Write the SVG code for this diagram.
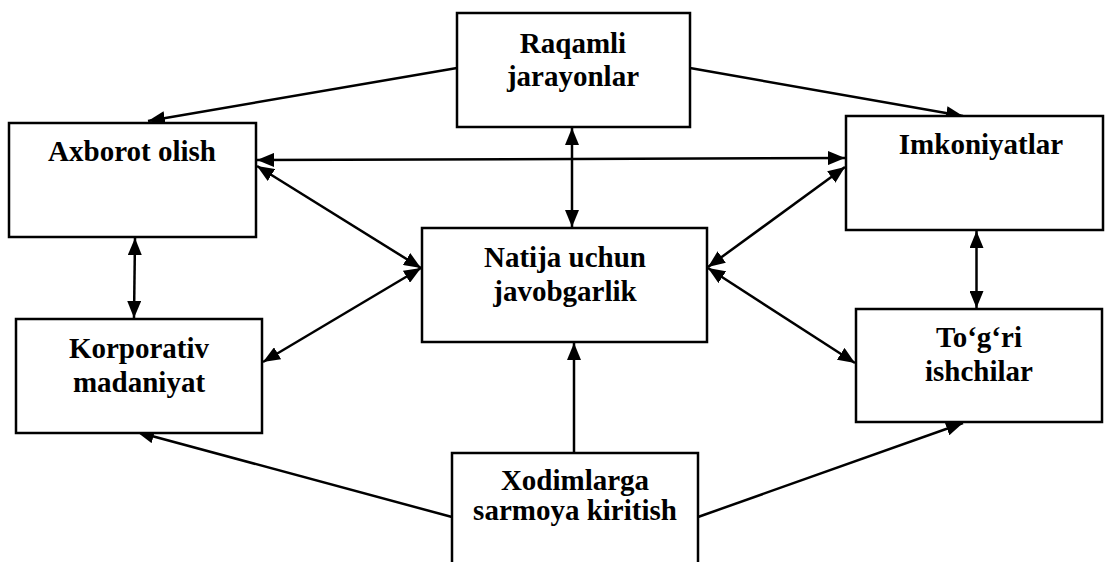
<svg xmlns="http://www.w3.org/2000/svg" width="1105" height="562" viewBox="0 0 1105 562">
  <style>
    .box { fill: #ffffff; stroke: #000000; stroke-width: 2.5; }
    .lbl { font-family: "Liberation Serif", "DejaVu Serif", serif; font-weight: bold; font-size: 29px; fill: #000000; text-anchor: middle; }
    .edge { stroke: #000000; stroke-width: 2.5; fill: none; }
    .one { marker-end: url(#head); }
    .two { marker-start: url(#head); marker-end: url(#head); }
  </style>
  <defs>
    <marker id="head" markerUnits="userSpaceOnUse" markerWidth="18" markerHeight="14" refX="17" refY="7" orient="auto-start-reverse">
      <path d="M0,0 L17,7 L0,14 Z" fill="#000000"/>
    </marker>
  </defs>
  <rect width="1105" height="562" fill="#ffffff"/>

  <g id="connectors">
    <line class="edge one" x1="457" y1="68" x2="148" y2="121"/>
    <line class="edge one" x1="690" y1="68" x2="963" y2="116"/>
    <line class="edge two" x1="572" y1="128" x2="572" y2="227"/>
    <line class="edge two" x1="257" y1="160" x2="845" y2="158"/>
    <line class="edge two" x1="257" y1="166" x2="421" y2="268"/>
    <line class="edge two" x1="845" y1="167" x2="708" y2="267"/>
    <line class="edge two" x1="135" y1="238" x2="134" y2="318"/>
    <line class="edge two" x1="976.5" y1="231" x2="976.5" y2="308"/>
    <line class="edge two" x1="421" y1="268" x2="263" y2="362"/>
    <line class="edge two" x1="708" y1="268" x2="855" y2="363"/>
    <line class="edge one" x1="574" y1="453" x2="574" y2="343"/>
    <line class="edge one" x1="452" y1="517" x2="137" y2="432"/>
    <line class="edge one" x1="698" y1="517" x2="963" y2="423"/>
  </g>

  <g id="raqamli">
    <rect class="box" x="457" y="13" width="233" height="114"/>
    <text class="lbl" x="573" y="53">Raqamli</text>
    <text class="lbl" x="573" y="86">jarayonlar</text>
  </g>
  <g id="axborot">
    <rect class="box" x="9" y="123" width="247" height="114"/>
    <text class="lbl" x="132" y="161">Axborot olish</text>
  </g>
  <g id="imkoniyatlar">
    <rect class="box" x="846" y="116" width="257" height="114"/>
    <text class="lbl" x="981" y="154">Imkoniyatlar</text>
  </g>
  <g id="natija">
    <rect class="box" x="422" y="228" width="285" height="114"/>
    <text class="lbl" x="565" y="267">Natija uchun</text>
    <text class="lbl" x="565" y="301">javobgarlik</text>
  </g>
  <g id="korporativ">
    <rect class="box" x="16" y="319" width="246" height="114"/>
    <text class="lbl" x="139" y="358">Korporativ</text>
    <text class="lbl" x="139" y="392">madaniyat</text>
  </g>
  <g id="togri">
    <rect class="box" x="856" y="309" width="246" height="113"/>
    <text class="lbl" x="979" y="347">To‘g‘ri</text>
    <text class="lbl" x="979" y="381">ishchilar</text>
  </g>
  <g id="xodimlarga">
    <rect class="box" x="452" y="453" width="246" height="120"/>
    <text class="lbl" x="575" y="490">Xodimlarga</text>
    <text class="lbl" x="575" y="520">sarmoya kiritish</text>
  </g>
</svg>
